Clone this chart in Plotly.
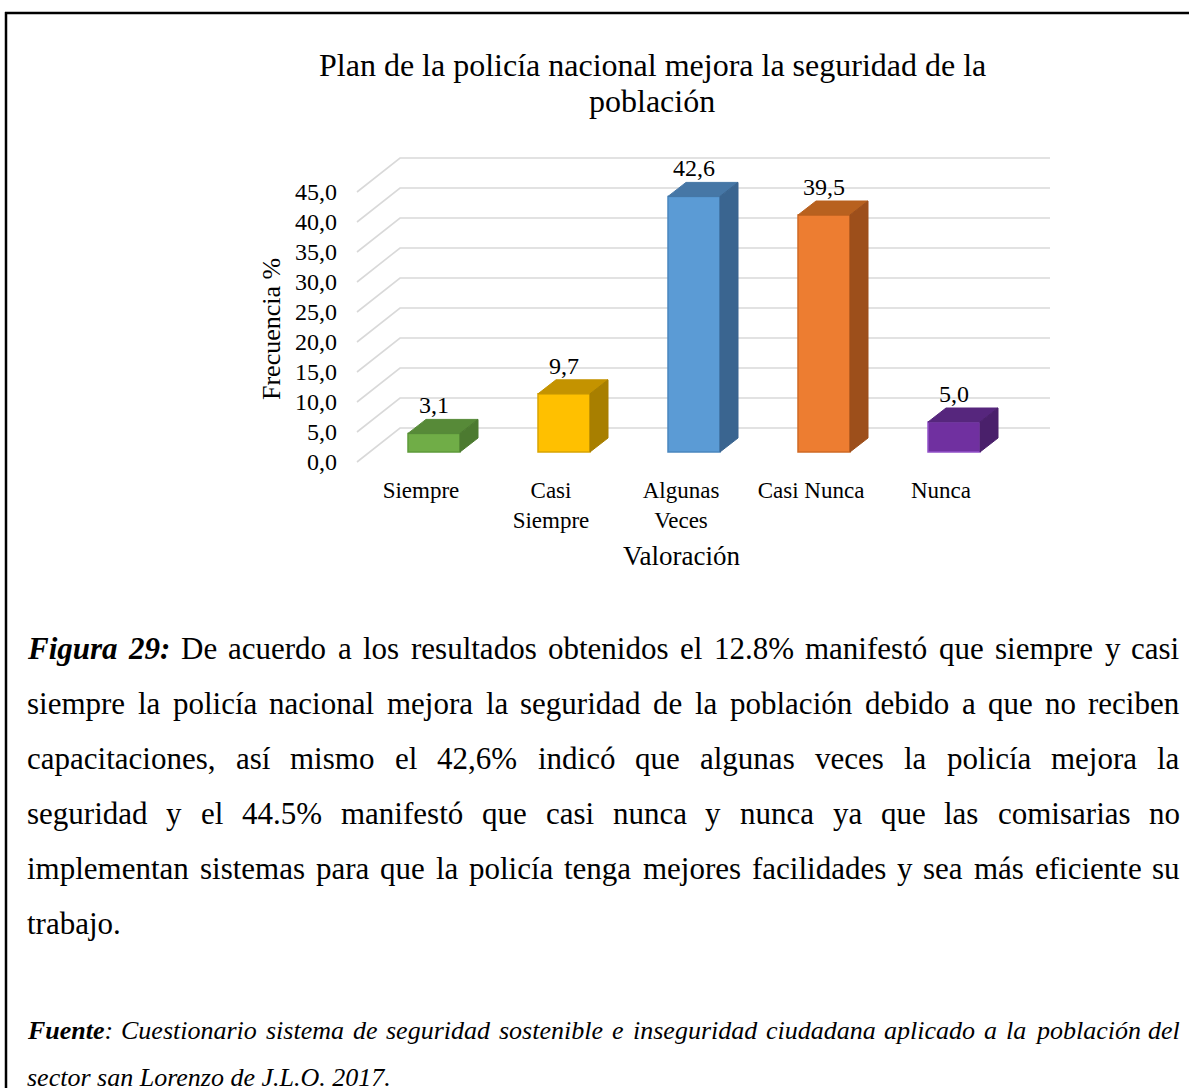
import unicodedata
import plotly.graph_objects as go

# %% datos del grafico
categorias = ["Siempre", "Casi<br>Siempre", "Algunas<br>Veces", "Casi Nunca", "Nunca"]
frecuencia = [3.1, 9.7, 42.6, 39.5, 5.0]
marcas_y = [0, 5, 10, 15, 20, 25, 30, 35, 40, 45]

titulo = ["Plan de la policía nacional mejora la seguridad de la", "población"]
titulo_x = "Valoración"
titulo_y = "Frecuencia %"

parrafo = [
    "De acuerdo a los resultados obtenidos el 12.8% manifestó que siempre y casi",
    "siempre la policía nacional mejora la seguridad de la población debido a que no reciben",
    "capacitaciones, así mismo el 42,6% indicó que algunas veces la policía mejora la",
    "seguridad y el 44.5% manifestó que casi nunca y nunca ya que las comisarias no",
    "implementan sistemas para que la policía tenga mejores facilidades y sea más eficiente su",
    "trabajo.",
]
fuente_1 = "Cuestionario sistema de seguridad sostenible e inseguridad ciudadana aplicado a la población del"
fuente_2 = "sector san Lorenzo de J.L.O. 2017."

# %% estilos
W, H = 1189, 1088
SERIF = "Liberation Serif, Times New Roman, serif"
c_frente = ["#70AD47", "#FFC000", "#5B9BD5", "#ED7D31", "#7030A0"]
c_tapa = ["#578A38", "#C49300", "#4677A6", "#B8611F", "#56267D"]
c_lado = ["#4C7A30", "#A87F00", "#3A6590", "#9D4F1B", "#4A206B"]
c_borde = ["#5E9A3A", "#D9A400", "#4A86BE", "#D06A24", "#9150C8"]

# geometria (px): 1 categoria = 130 px, 1 unidad = 6 px
PX_CAT, PX_VAL = 130.0, 6.0
X0_PX, Y0_PX = 434.0, 452.0          # centro frontal barra 0 / base
ANCHO_BARRA = 52 / PX_CAT
DX, DY = 18 / PX_CAT, 14 / PX_VAL     # profundidad de la barra
FX, FY = 13 / PX_CAT, 10 / PX_VAL     # plano frontal (etiquetas)
PARED_X0 = (400 - X0_PX) / PX_CAT
PARED_X1 = (1050 - X0_PX) / PX_CAT
FRENTE_X = (357 - X0_PX) / PX_CAT
PARED_DY = (Y0_PX - 428) / PX_VAL

dom_x = (340, 1060)
dom_y = (150, 466)
rango_x = [(dom_x[0] - X0_PX) / PX_CAT, (dom_x[1] - X0_PX) / PX_CAT]
rango_y = [(Y0_PX - dom_y[1]) / PX_VAL, (Y0_PX - dom_y[0]) / PX_VAL]

def fmt(v):
    return f"{v:.1f}".replace(".", ",")

idx = list(range(len(frecuencia)))

fig = go.Figure()

# cara frontal
fig.add_trace(go.Bar(x=idx, y=frecuencia, width=ANCHO_BARRA,
                     marker=dict(color=c_frente, line=dict(color=c_borde, width=1.5)),
                     hoverinfo="skip", showlegend=False))

# tapa y lado (pseudo 3D)
for i, v in enumerate(frecuencia):
    xl, xr = i - ANCHO_BARRA / 2, i + ANCHO_BARRA / 2
    fig.add_trace(go.Scatter(x=[xl, xr, xr + DX, xl + DX, xl], y=[v, v, v + DY, v + DY, v],
                             fill="toself", fillcolor=c_tapa[i], mode="lines",
                             line=dict(color=c_tapa[i], width=1), hoverinfo="skip", showlegend=False))
    fig.add_trace(go.Scatter(x=[xr, xr + DX, xr + DX, xr, xr], y=[0, DY, v + DY, v, 0],
                             fill="toself", fillcolor=c_lado[i], mode="lines",
                             line=dict(color=c_lado[i], width=1), hoverinfo="skip", showlegend=False))

# etiquetas de datos
fig.add_trace(go.Scatter(x=idx, y=[v + DY for v in frecuencia], mode="text",
                         text=[fmt(v) for v in frecuencia], textposition="top center",
                         textfont=dict(family=SERIF, size=24, color="black"),
                         hoverinfo="skip", showlegend=False))

# rejilla en perspectiva
for t in marcas_y:
    fig.add_shape(type="path", xref="x", yref="y", layer="below",
                  path=f"M {FRENTE_X} {t - FY} L {PARED_X0} {t + PARED_DY} L {PARED_X1} {t + PARED_DY}",
                  line=dict(color="#D9D9D9", width=1.6))

fig.update_layout(
    width=W, height=H, template="none",
    margin=dict(l=0, r=0, t=0, b=0),
    paper_bgcolor="white", plot_bgcolor="rgba(0,0,0,0)",
    showlegend=False,
    font=dict(family=SERIF, color="black"),
    xaxis=dict(domain=[dom_x[0] / W, dom_x[1] / W], range=rango_x,
               tickvals=[i - FX for i in idx], ticktext=categorias,
               showgrid=False, zeroline=False, showline=False, ticks="",
               tickfont=dict(family=SERIF, size=23, color="black"),
               ticklabelstandoff=8, fixedrange=True),
    yaxis=dict(domain=[1 - dom_y[1] / H, 1 - dom_y[0] / H], range=rango_y,
               tickvals=[t - FY for t in marcas_y], ticktext=[fmt(t) for t in marcas_y],
               showgrid=False, zeroline=False, showline=False, ticks="",
               tickfont=dict(family=SERIF, size=24, color="black"),
               ticklabelstandoff=2, fixedrange=True),
)

def nota(texto, x, y, size, xanchor="center", yanchor="middle", angle=0):
    fig.add_annotation(text=texto, x=x / W, y=1 - y / H, xref="paper", yref="paper",
                       xanchor=xanchor, yanchor=yanchor, showarrow=False, textangle=angle,
                       borderpad=0, borderwidth=0,
                       font=dict(family=SERIF, size=size, color="black"))

nota(titulo[0], 652, 65, 32)
nota(titulo[1], 652, 101, 32)
nota(titulo_x, 682, 556, 27)
nota(titulo_y, 271, 329, 26, angle=-90)

# marco del documento
fig.add_shape(type="line", xref="paper", yref="paper", x0=5 / W, x1=1, y0=1 - 13 / H, y1=1 - 13 / H,
              line=dict(color="black", width=2.5))
fig.add_shape(type="line", xref="paper", yref="paper", x0=6 / W, x1=6 / W, y0=1 - 12 / H, y1=0,
              line=dict(color="black", width=2.5))

# %% texto justificado (anchos aproximados de Times)
REG = dict(zip("abcdefghijklmnopqrstuvwxyz",
               [444, 500, 444, 500, 444, 333, 500, 500, 278, 278, 500, 278, 778,
                500, 500, 500, 500, 333, 389, 278, 500, 500, 722, 500, 500, 444]))
REG.update({" ": 250, ",": 250, ".": 250, ":": 278, "%": 833, "F": 556, "C": 667,
            "D": 722, "J": 389, "L": 611, "O": 722})
REG.update({d: 500 for d in "0123456789"})
ITA = dict(REG)
ITA.update(dict(zip("acfkmrvwxyz", [500, 444, 278, 444, 722, 389, 444, 667, 444, 444, 389])))
ITA.update({":": 333, "F": 611, "C": 667, "J": 444, "L": 556})
BIT = dict(ITA)
BIT.update({"F": 667, "u": 556, "n": 556, ":": 333, "g": 500, "a": 500})
TABLAS = {"r": REG, "i": ITA, "bi": BIT}

def base(c):
    return unicodedata.normalize("NFD", c)[0]

def ancho(segs, size):
    return sum(TABLAS[e].get(base(c), 500) for t, e in segs for c in t) * size / 1000

def html(segs):
    out = ""
    for t, e in segs:
        out += {"r": t, "i": f"<i>{t}</i>", "bi": f"<b><i>{t}</i></b>"}[e]
    return out

def linea(palabras, y, size, izq=27, der=1180, justificar=True):
    if not justificar:
        nota(" ".join(html(p) for p in palabras), izq, y, size, xanchor="left")
        return
    anchos = [ancho(p, size) for p in palabras]
    hueco = (der - izq - sum(anchos)) / (len(palabras) - 1)
    x = izq
    for k, p in enumerate(palabras):
        if k == len(palabras) - 1:
            nota(html(p), der, y, size, xanchor="right")
        else:
            nota(html(p), x, y, size, xanchor="left")
        x += anchos[k] + hueco

TAM_P = 31
for n, txt in enumerate(parrafo):
    pal = [[(w, "r")] for w in txt.split()]
    if n == 0:
        pal = [[("Figura", "bi")], [("29:", "bi")]] + pal
    linea(pal, 648 + 55 * n, TAM_P, justificar=n < len(parrafo) - 1)

pal = [[("Fuente", "bi"), (":", "i")]] + [[(w, "i")] for w in fuente_1.split()]
linea(pal, 1030, 26)
linea([[(w, "i")] for w in fuente_2.split()], 1077, 26, justificar=False)

fig.write_html("out.html", config={"displayModeBar": False},
               post_script="document.body.style.margin='0px';")
